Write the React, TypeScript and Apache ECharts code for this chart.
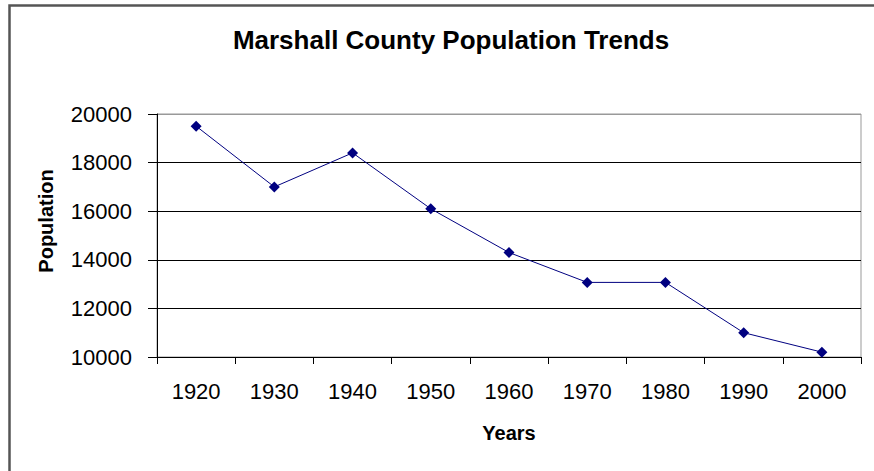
import React, { useEffect, useRef } from "react";
import * as echarts from "echarts";

const years = ["1920", "1930", "1940", "1950", "1960", "1970", "1980", "1990", "2000"];
const population = [19500, 17000, 18400, 16100, 14300, 13070, 13070, 11000, 10200];
const gridColors = ["#000", "#000", "#000", "#000", "#000", "#999"];

const FONT = "Liberation Sans, Arial, sans-serif";

export default function App() {
  const ref = useRef<HTMLDivElement>(null);
  useEffect(() => {
    if (!ref.current) return;
    const chart = echarts.init(ref.current, null, { renderer: "svg" });
    chart.setOption({
      animation: false,
      backgroundColor: "#fff",
      title: {
        text: "Marshall County Population Trends",
        left: 446,
        top: 22,
        textAlign: "center",
        textStyle: { fontFamily: FONT, fontSize: 26, fontWeight: "bold", color: "#000" },
      },
      graphic: [
        {
          type: "rect",
          shape: { x: 9.5, y: 5.5, width: 900, height: 500 },
          style: { fill: "none", stroke: "#555", lineWidth: 2.5 },
          silent: true,
        },
        {
          type: "text",
          x: 46,
          y: 221,
          rotation: Math.PI / 2,
          style: {
            text: "Population",
            fontFamily: FONT,
            fontSize: 20,
            fontWeight: "bold",
            fill: "#000",
            align: "center",
            verticalAlign: "middle",
          },
          silent: true,
        },
      ],
      grid: { left: 157, right: 13, top: 114, bottom: 114, show: true, borderColor: "#999", borderWidth: 1 },
      xAxis: {
        type: "category",
        data: years,
        boundaryGap: true,
        name: "Years",
        nameLocation: "middle",
        nameGap: 66,
        nameTextStyle: { fontFamily: FONT, fontSize: 20, fontWeight: "bold", color: "#000" },
        axisLine: { lineStyle: { color: "#000", width: 1 } },
        axisTick: { show: true, length: 7, alignWithLabel: false, lineStyle: { color: "#000" } },
        axisLabel: { margin: 23, fontFamily: FONT, fontSize: 22, color: "#000" },
        splitLine: { show: false },
      },
      yAxis: {
        type: "value",
        min: 10000,
        max: 20000,
        interval: 2000,
        axisLine: { show: true, lineStyle: { color: "#000", width: 1 } },
        axisTick: { show: true, length: 9, lineStyle: { color: "#000" } },
        axisLabel: {
          margin: 25,
          fontFamily: FONT,
          fontSize: 22,
          color: "#000",
          formatter: (v: number) => String(v),
        },
        splitLine: { show: true, lineStyle: { color: gridColors, width: 1 } },
      },
      series: [
        {
          type: "line",
          data: population,
          symbol: "diamond",
          symbolSize: 11,
          itemStyle: { color: "#000080" },
          lineStyle: { color: "#000080", width: 1 },
        },
      ],
    });
    return () => chart.dispose();
  }, []);
  return <div ref={ref} style={{ position: "absolute", left: 0, top: 0, width: 874, height: 471 }} />;
}
